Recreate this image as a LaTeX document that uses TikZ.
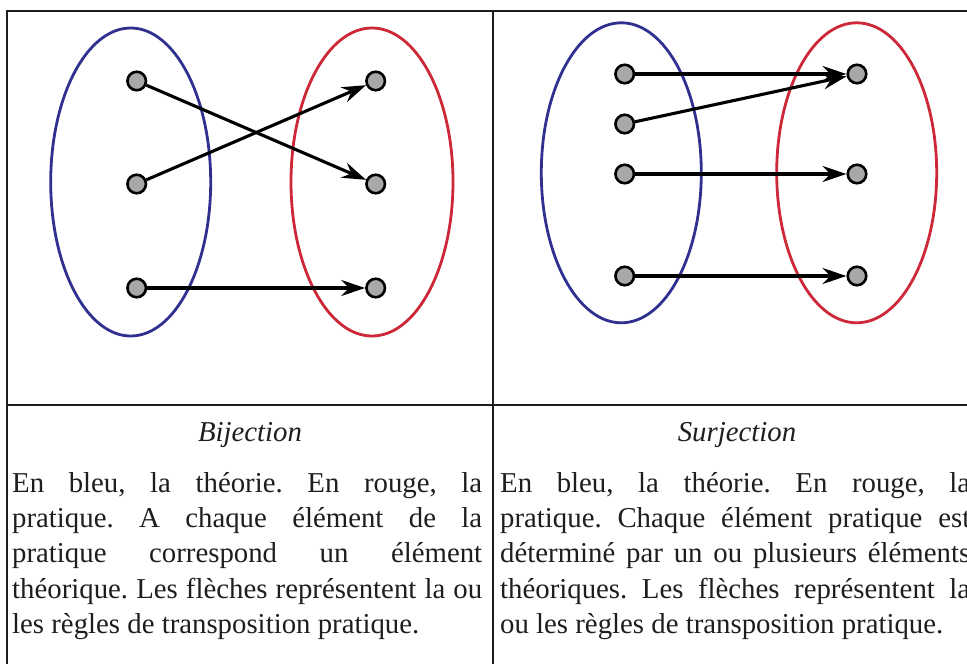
\documentclass[tikz,border=0pt]{standalone}
\usepackage{fontspec}
\setmainfont{Liberation Serif}
\usetikzlibrary{arrows.meta}
\definecolor{setblue}{RGB}{48,48,145}
\definecolor{setred}{RGB}{205,40,55}
\definecolor{dotgray}{RGB}{168,168,168}
\definecolor{ink}{RGB}{30,30,30}
\begin{document}
\frenchspacing
\begin{tikzpicture}[x=1pt,y=-1pt,
  grid/.style={draw=ink,line width=1.2pt},
  blueset/.style={draw=setblue,line width=2.8pt},
  redset/.style={draw=setred,line width=2.8pt},
  dot/.style={circle,draw=black,fill=dotgray,line width=2.6pt,minimum size=18.5pt,inner sep=0pt},
  arr/.style={draw=black,line width=3.1pt,-{Stealth[length=24pt,width=16pt,inset=8pt]}},
  txt/.style={anchor=base west,inner sep=0pt,text=ink,font=\fontsize{28.8}{35}\selectfont},
  ttl/.style={anchor=base,inner sep=0pt,text=ink,font=\fontsize{28.8}{35}\selectfont\itshape}]
\useasboundingbox (0,0) rectangle (967,664);
\clip (0,0) rectangle (967,664);
\fill[white] (0,0) rectangle (967,664);
% table lines
\draw[grid] (7,670) -- (7,11) -- (990,11);
\draw[grid] (493,11) -- (493,670);
\draw[grid] (7,405) -- (990,405);
% left panel
\draw[blueset] (130.7,182) ellipse [x radius=80, y radius=154];
\draw[redset] (372,182) ellipse [x radius=81, y radius=154];
\node[dot] (a1) at (136.7,81) {};
\node[dot] (a2) at (136.7,184) {};
\node[dot] (a3) at (136.7,288) {};
\node[dot] (b1) at (375.7,81) {};
\node[dot] (b2) at (375.7,184) {};
\node[dot] (b3) at (375.7,288) {};
\draw[arr] (a1) -- (b2);
\draw[arr] (a2) -- (b1);
\draw[arr] (a3) -- (b3);
% right panel
\draw[blueset] (621.3,172.8) ellipse [x radius=80, y radius=150];
\draw[redset] (856.7,172.8) ellipse [x radius=80, y radius=150];
\node[dot] (c1) at (624.7,74) {};
\node[dot] (c2) at (624.7,124) {};
\node[dot] (c3) at (624.7,174) {};
\node[dot] (c4) at (624.7,276) {};
\node[dot] (d1) at (857,74) {};
\node[dot] (d2) at (857,174) {};
\node[dot] (d3) at (857,276) {};
\draw[arr] (c1) -- (d1);
\draw[arr] (c2) -- (d1);
\draw[arr] (c3) -- (d2);
\draw[arr] (c4) -- (d3);
% titles
\node[ttl] (t1) at (250,441) {Bijection};
\node[ttl] (t2) at (737,441) {Surjection};
% left text
\node[txt] (l1) at (12,492) {\makebox[470pt][s]{En bleu, la théorie. En rouge, la}};
\node[txt] (l2) at (12,527) {\makebox[470pt][s]{pratique. A chaque élément de la}};
\node[txt] (l3) at (12,562) {\makebox[470pt][s]{pratique correspond un élément}};
\node[txt] (l4) at (12,598) {\makebox[470pt][s]{théorique. Les flèches représentent la ou}};
\node[txt] (l5) at (12,633) {les règles de transposition pratique.};
% right text
\node[txt] (r1) at (500,492) {\makebox[470pt][s]{En bleu, la théorie. En rouge, la}};
\node[txt] (r2) at (500,527) {\makebox[470pt][s]{pratique. Chaque élément pratique est}};
\node[txt] (r3) at (500,562) {\makebox[470pt][s]{déterminé par un ou plusieurs éléments}};
\node[txt] (r4) at (500,598) {\makebox[470pt][s]{théoriques. Les flèches représentent la}};
\node[txt] (r5) at (500,633) {ou les règles de transposition pratique.};
\end{tikzpicture}
\end{document}
